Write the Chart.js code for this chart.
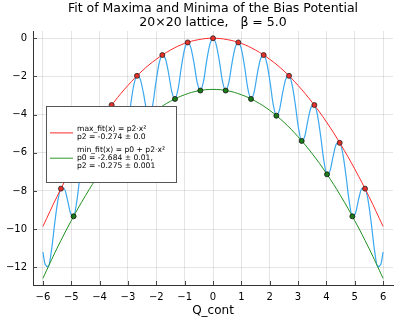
<!DOCTYPE html>
<html>
<head>
<meta charset="utf-8">
<script src="https://cdn.jsdelivr.net/npm/chart.js@4/dist/chart.umd.min.js"></script>
<style>
  html, body { margin: 0; padding: 0; background: #fff; }
  #c { display: block; }
</style>
</head>
<body>
<canvas id="c" width="400" height="320"></canvas>
<script>
// ---- data ----
const titleLines = ['Fit of Maxima and Minima of the Bias Potential', '20×20 lattice,   β = 5.0'];
const xAxisTitle = 'Q_cont';
const xTicks = [-6, -5, -4, -3, -2, -1, 0, 1, 2, 3, 4, 5, 6];
const yTicks = [-12, -10, -8, -6, -4, -2, 0];

// bias potential (blue curve)
const biasX = [-6, -5.923, -5.811, -5.699, -5.5875, -5.476, -5.364, -5.252, -5.1405, -5.029, -4.917, -4.805, -4.6935, -4.582, -4.47, -4.358, -4.2465, -4.135, -4.023, -3.911, -3.7995, -3.688, -3.576, -3.464, -3.3525, -3.241, -3.129, -3.017, -2.9055, -2.794, -2.682, -2.57, -2.4585, -2.347, -2.235, -2.123, -2.0115, -1.9, -1.788, -1.676, -1.5645, -1.453, -1.341, -1.229, -1.1175, -1.006, -0.894, -0.782, -0.6705, -0.559, -0.447, -0.335, -0.2235, -0.112,
  0, 0.112, 0.2235, 0.335, 0.447, 0.559, 0.6705, 0.782, 0.894, 1.006, 1.1175, 1.229, 1.341, 1.453, 1.5645, 1.676, 1.788, 1.9, 2.0115, 2.123, 2.235, 2.347, 2.4585, 2.57, 2.682, 2.794, 2.9055, 3.017, 3.129, 3.241, 3.3525, 3.464, 3.576, 3.688, 3.7995, 3.911, 4.023, 4.135, 4.2465, 4.358, 4.47, 4.582, 4.6935, 4.805, 4.917, 5.029, 5.1405, 5.252, 5.364, 5.476, 5.5875, 5.699, 5.811, 5.923, 6];
const biasY = [-11.2, -11.84, -11.97, -11.13, -9.74, -8.54, -7.88, -7.88, -8.42, -9.16, -9.33, -8.55, -7.22, -6.07, -5.48, -5.53, -6.12, -6.91, -7.13, -6.42, -5.14, -4.05, -3.50, -3.61, -4.26, -5.11, -5.38, -4.72, -3.49, -2.46, -1.97, -2.13, -2.84, -3.74, -4.06, -3.46, -2.29, -1.31, -0.88, -1.09, -1.85, -2.81, -3.18, -2.64, -1.52, -0.60, -0.22, -0.49, -1.30, -2.31, -2.74, -2.26, -1.19, -0.33,
  0, -0.33, -1.19, -2.26, -2.74, -2.31, -1.30, -0.49, -0.22, -0.60, -1.52, -2.64, -3.18, -2.81, -1.85, -1.09, -0.88, -1.31, -2.29, -3.46, -4.06, -3.74, -2.84, -2.13, -1.97, -2.46, -3.49, -4.72, -5.38, -5.11, -4.26, -3.61, -3.50, -4.05, -5.14, -6.42, -7.13, -6.91, -6.12, -5.53, -5.48, -6.07, -7.22, -8.55, -9.33, -9.16, -8.42, -7.88, -7.88, -8.54, -9.74, -11.13, -11.97, -11.84, -11.2];

// maxima (red markers)
const maxX = [-5.364, -4.47, -3.576, -2.682, -1.788, -0.894, 0, 0.894, 1.788, 2.682, 3.576, 4.47, 5.364];
const maxY = [-7.88, -5.48, -3.5, -1.97, -0.88, -0.22, 0, -0.22, -0.88, -1.97, -3.5, -5.48, -7.88];

// minima (green markers)
const minX = [-4.917, -4.023, -3.129, -2.235, -1.341, -0.447, 0.447, 1.341, 2.235, 3.129, 4.023, 4.917];
const minY = [-9.33, -7.13, -5.38, -4.06, -3.18, -2.74, -2.74, -3.18, -4.06, -5.38, -7.13, -9.33];

// fitted curves (read at half-unit steps)
const fitX = [-6, -5.5, -5, -4.5, -4, -3.5, -3, -2.5, -2, -1.5, -1, -0.5, 0, 0.5, 1, 1.5, 2, 2.5, 3, 3.5, 4, 4.5, 5, 5.5, 6];
const maxFitY = [-9.86, -8.29, -6.85, -5.55, -4.38, -3.36, -2.47, -1.71, -1.10, -0.62, -0.27, -0.07, 0, -0.07, -0.27, -0.62, -1.10, -1.71, -2.47, -3.36, -4.38, -5.55, -6.85, -8.29, -9.86];
const minFitY = [-12.58, -11.00, -9.56, -8.25, -7.08, -6.05, -5.16, -4.40, -3.78, -3.30, -2.96, -2.75, -2.68, -2.75, -2.96, -3.30, -3.78, -4.40, -5.16, -6.05, -7.08, -8.25, -9.56, -11.00, -12.58];

const maxFitLabel = ['max_fit(x) = p2·x²', 'p2 = -0.274 ± 0.0'];
const minFitLabel = ['min_fit(x) = p0 + p2·x²', 'p0 = -2.684 ± 0.01,', 'p2 = -0.275 ± 0.001'];

// ---- build ----
const pts = (xs, ys) => xs.map((x, i) => ({ x: x, y: ys[i] }));
const fmt = v => (v < 0 ? '\u2212' + Math.abs(v) : String(v));

const COL_BLUE = '#3aa8f0';
const COL_RED = '#ff2a2a';
const COL_GREEN = '#1f8f1f';
const FONT = "'DejaVu Sans', sans-serif";

Chart.defaults.font.family = FONT;
Chart.defaults.color = '#000';

const plotTitle = {
  id: 'plotTitle',
  afterDraw(chart) {
    const { ctx, chartArea: a } = chart;
    const cx = (a.left + a.right) / 2;
    ctx.save();
    ctx.fillStyle = '#000';
    ctx.font = '12.5px ' + FONT;
    ctx.textAlign = 'center';
    ctx.textBaseline = 'middle';
    ctx.fillText(titleLines[0], cx, 8.5);
    ctx.fillText(titleLines[1], cx, 22.5);
    ctx.restore();
  }
};

const innerTicks = {
  id: 'innerTicks',
  afterDatasetsDraw(chart) {
    const { ctx, chartArea: a, scales } = chart;
    ctx.save();
    ctx.strokeStyle = '#444';
    ctx.lineWidth = 1;
    ctx.beginPath();
    xTicks.forEach(t => {
      const px = Math.round(scales.x.getPixelForValue(t)) + 0.5;
      ctx.moveTo(px, a.bottom); ctx.lineTo(px, a.bottom - 4);
    });
    yTicks.forEach(t => {
      const py = Math.round(scales.y.getPixelForValue(t)) + 0.5;
      ctx.moveTo(a.left, py); ctx.lineTo(a.left + 4, py);
    });
    ctx.stroke();
    ctx.restore();
  }
};

const boxLegend = {
  id: 'boxLegend',
  afterDraw(chart) {
    const { ctx } = chart;
    const bx = 46.5, by = 106.5, bw = 130, bh = 76;
    ctx.save();
    ctx.fillStyle = '#fff';
    ctx.fillRect(bx, by, bw, bh);
    ctx.strokeStyle = '#555';
    ctx.lineWidth = 1;
    ctx.strokeRect(bx, by, bw, bh);
    const entries = [
      { color: COL_RED, lines: maxFitLabel, y0: 128.8 },
      { color: '#2a9a2a', lines: minFitLabel, y0: 150 }
    ];
    const lh = 8.2;
    ctx.font = '7.6px ' + FONT;
    ctx.textBaseline = 'middle';
    ctx.textAlign = 'left';
    entries.forEach(e => {
      const mid = e.y0 + (e.lines.length - 1) * lh / 2;
      ctx.strokeStyle = e.color;
      ctx.lineWidth = 1;
      ctx.beginPath();
      ctx.moveTo(50, mid); ctx.lineTo(73, mid);
      ctx.stroke();
      ctx.fillStyle = '#000';
      e.lines.forEach((t, i) => ctx.fillText(t, 77, e.y0 + i * lh));
    });
    ctx.restore();
  }
};

new Chart(document.getElementById('c'), {
  type: 'line',
  data: {
    datasets: [
      { label: 'bias', data: pts(biasX, biasY), borderColor: COL_BLUE, borderWidth: 1.2, pointRadius: 0, cubicInterpolationMode: 'monotone', order: 5 },
      { label: 'max_fit', data: pts(fitX, maxFitY), borderColor: COL_RED, borderWidth: 1, pointRadius: 0, tension: 0.4, order: 4 },
      { label: 'min_fit', data: pts(fitX, minFitY), borderColor: COL_GREEN, borderWidth: 1, pointRadius: 0, tension: 0.4, order: 3 },
      { label: 'maxima', data: pts(maxX, maxY), showLine: false, pointRadius: 2.5, pointBackgroundColor: '#e8302a', pointBorderColor: '#222', pointBorderWidth: 0.8, order: 2 },
      { label: 'minima', data: pts(minX, minY), showLine: false, pointRadius: 2.5, pointBackgroundColor: '#1a7d1a', pointBorderColor: '#111', pointBorderWidth: 0.8, order: 1 }
    ]
  },
  options: {
    responsive: false,
    animation: false,
    devicePixelRatio: 1,
    layout: { padding: { left: 0, right: 7, top: 31, bottom: 0 } },
    plugins: {
      legend: { display: false },
      tooltip: { enabled: false },
      title: { display: false }
    },
    scales: {
      x: {
        type: 'linear',
        min: -6.35, max: 6.35,
        afterBuildTicks: s => { s.ticks = xTicks.map(v => ({ value: v })); },
        afterFit: s => { s.height = 35; },
        ticks: { callback: v => fmt(v), font: { size: 10 }, padding: 6, maxRotation: 0, autoSkip: false, color: '#000' },
        grid: { color: 'rgba(0,0,0,0.1)', drawTicks: false },
        border: { display: true, color: '#333', width: 1 },
        title: { display: true, text: xAxisTitle, font: { size: 12 }, padding: { top: 0, bottom: 2 }, color: '#000' }
      },
      y: {
        type: 'linear',
        min: -12.93, max: 0.38,
        afterBuildTicks: s => { s.ticks = yTicks.map(v => ({ value: v })); },
        afterFit: s => { s.width = 33; },
        ticks: { callback: v => fmt(v), font: { size: 10 }, padding: 6, autoSkip: false, color: '#000' },
        grid: { color: 'rgba(0,0,0,0.1)', drawTicks: false },
        border: { display: true, color: '#333', width: 1 }
      }
    }
  },
  plugins: [innerTicks, boxLegend, plotTitle]
});
</script>
</body>
</html>
